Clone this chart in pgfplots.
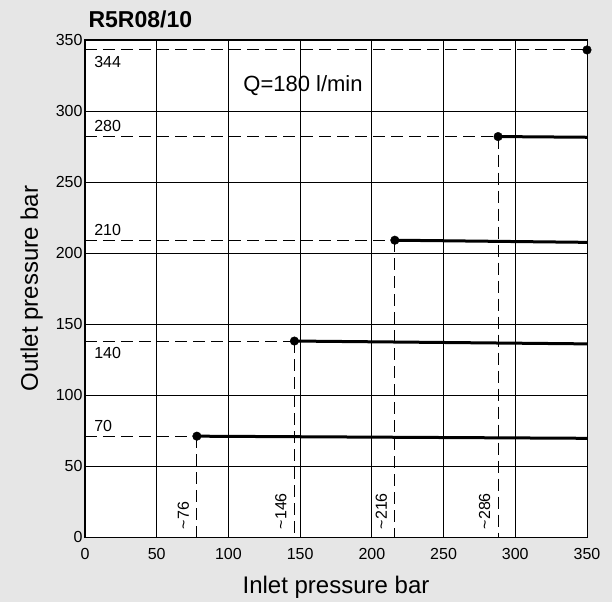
\documentclass[border=0pt]{standalone}
\usepackage{fontspec}
\setmainfont{Liberation Sans}
\usepackage{pgfplots}
\pgfplotsset{compat=1.18}
\definecolor{bggray}{RGB}{230,230,230}

\pgfplotstableread{
x y
78 71
146 138
216 209
288 282
350 343
}\points

\begin{document}
\begin{tikzpicture}
\useasboundingbox (-85pt,-65pt) rectangle (527pt,537pt);
\fill[bggray] (-85pt,-65pt) rectangle (527pt,537pt);
\begin{axis}[
    scale only axis,
    width=502pt, height=497pt,
    xmin=0, xmax=350, ymin=0, ymax=350,
    xtick={0,50,...,350}, ytick={0,50,...,350},
    grid=major,
    major grid style={black, line width=0.9pt},
    axis line style={black, line width=1pt},
    major tick length=0pt,
    axis background/.style={fill=white},
    tick label style={font=\fontsize{16}{16}\selectfont},
    xticklabel style={yshift=-8pt},
    yticklabel style={xshift=1pt},
    /pgf/number format/assume math mode=true,
    xlabel={Inlet pressure bar},
    ylabel={Outlet pressure bar},
    label style={font=\fontsize{24}{24}\selectfont},
    xlabel style={yshift=-9pt},
    ylabel style={yshift=6pt},
    clip=false,
]
% dashed guides
\addplot[black, line width=0.9pt, dash pattern=on 12pt off 6pt] coordinates {(0,71) (78,71)};
\addplot[black, line width=0.9pt, dash pattern=on 12pt off 6pt] coordinates {(78,71) (78,0)};
\addplot[black, line width=0.9pt, dash pattern=on 12pt off 6pt] coordinates {(0,138) (146,138)};
\addplot[black, line width=0.9pt, dash pattern=on 12pt off 6pt] coordinates {(146,138) (146,0)};
\addplot[black, line width=0.9pt, dash pattern=on 12pt off 6pt] coordinates {(0,209) (216,209)};
\addplot[black, line width=0.9pt, dash pattern=on 12pt off 6pt] coordinates {(216,209) (216,0)};
\addplot[black, line width=0.9pt, dash pattern=on 12pt off 6pt] coordinates {(0,282) (288,282)};
\addplot[black, line width=0.9pt, dash pattern=on 12pt off 6pt] coordinates {(288,282) (288,0)};
\addplot[black, line width=0.9pt, dash pattern=on 12pt off 6pt] coordinates {(0,343) (350,343)};
% thick characteristic lines
\addplot[black, line width=3pt] coordinates {(78,71) (350,69.5)};
\addplot[black, line width=3pt] coordinates {(146,138) (350,136)};
\addplot[black, line width=3pt] coordinates {(216,209) (350,207.5)};
\addplot[black, line width=3pt] coordinates {(288,282) (350,281.5)};
% dots
\addplot[only marks, mark=*, mark size=4.3pt, black] table[x=x, y=y] {\points};
% labels
\node[font=\fontsize{16}{16}\selectfont, anchor=south west] at (axis cs:4,72) {70};
\node[font=\fontsize{16}{16}\selectfont, anchor=north west] at (axis cs:4,136) {140};
\node[font=\fontsize{16}{16}\selectfont, anchor=south west] at (axis cs:4,210) {210};
\node[font=\fontsize{16}{16}\selectfont, anchor=south west] at (axis cs:4,283) {280};
\node[font=\fontsize{16}{16}\selectfont, anchor=north west] at (axis cs:4,341) {344};
\node[font=\fontsize{16}{16}\selectfont, rotate=90, anchor=south west] at (axis cs:75,3) {\textasciitilde76};
\node[font=\fontsize{16}{16}\selectfont, rotate=90, anchor=south west] at (axis cs:143,3) {\textasciitilde146};
\node[font=\fontsize{16}{16}\selectfont, rotate=90, anchor=south west] at (axis cs:213,3) {\textasciitilde216};
\node[font=\fontsize{16}{16}\selectfont, rotate=90, anchor=south west] at (axis cs:285,3) {\textasciitilde286};
\node[font=\fontsize{22}{22}\selectfont] at (axis cs:152,318) {Q=180 l/min};
\node[font=\bfseries\fontsize{23}{23}\selectfont, anchor=base west] at (axis cs:0,359) {R5R08/10};
\end{axis}
\end{tikzpicture}
\end{document}
